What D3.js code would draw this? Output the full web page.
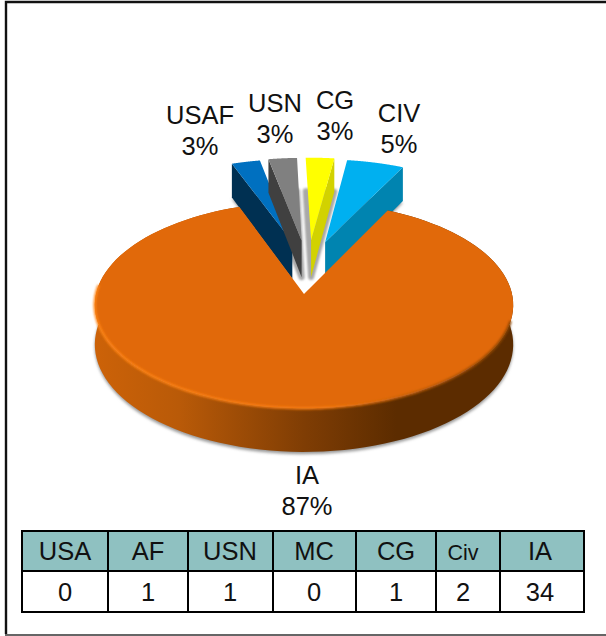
<!DOCTYPE html>
<html>
<head>
<meta charset="utf-8">
<script src="https://cdnjs.cloudflare.com/ajax/libs/d3/7.8.5/d3.min.js"></script>
<style>
html, body { margin: 0; padding: 0; background: #fff; }
svg { display: block; }
text { font-family: "Liberation Sans", Arial, sans-serif; fill: #111; text-anchor: middle; }
</style>
</head>
<body>
<svg id="chart" width="606" height="636"></svg>
<script>
/* Data */
var sliceNames = ["USAF", "USN", "CG", "CIV", "IA"];
var sliceValues = [1, 1, 1, 2, 34];
var tableHeaders = ["USA", "AF", "USN", "MC", "CG", "Civ", "IA"];
var tableCounts = [0, 1, 1, 0, 1, 2, 34];

/* Styles */
var topColors = ["#0070c0", "#808080", "#ffff00", "#00b0f0", "#e1690a"];
var sideColors = ["#003052", "#404040", "#d2d200", "#0084b0", "#8a4305"];

/* Layout */
var CX = 304, CY = 294, RX = 208, RY = 102, PERSP = 0.107, DEPTH = 39;
var EXPLODE_X = 0.3, EXPLODE_Y = 0.56, EXPLODE_SHIFT = 0.02;
var labelPos = [[200, 124], [275, 112], [335, 109], [399, 122], [307, 484]];
var columnEdges = [22, 108, 188, 273, 356, 436, 500, 584];
var columnText = [65, 148, 230, 314, 396, 463, 540];
var rowEdges = [531, 571, 612];

var svg = d3.select("#chart");
var defs = svg.append("defs");

defs.append("filter").attr("id", "blur")
    .attr("x", "-10%").attr("y", "-10%").attr("width", "120%").attr("height", "120%")
    .append("feGaussianBlur").attr("stdDeviation", 1.8);
defs.append("filter").attr("id", "soft")
    .append("feGaussianBlur").attr("stdDeviation", 0.8);

var wallGrad = defs.append("linearGradient").attr("id", "wall")
    .attr("gradientUnits", "userSpaceOnUse")
    .attr("x1", 96).attr("x2", 513).attr("y1", 0).attr("y2", 0);
[[0, "#cc6208"], [0.2, "#b95a08"], [0.5, "#7f3d04"], [0.72, "#5c2c00"], [1, "#5c2c00"]].forEach(function (s) {
    wallGrad.append("stop").attr("offset", s[0]).attr("stop-color", s[1]);
});
var rimGrad = defs.append("linearGradient").attr("id", "rim")
    .attr("gradientUnits", "userSpaceOnUse")
    .attr("x1", 96).attr("x2", 513).attr("y1", 0).attr("y2", 0);
[[0, "#ff8418"], [0.55, "#f57a12"], [0.85, "#a85208"], [1, "#8a4305"]].forEach(function (s) {
    rimGrad.append("stop").attr("offset", s[0]).attr("stop-color", s[1]);
});

// outer frame, there is no line on the right side
svg.append("path").attr("d", "M606,2H6V634").attr("fill", "none")
    .attr("stroke", "#111").attr("stroke-width", 2.4);
svg.append("path").attr("d", "M5,635H606").attr("fill", "none")
    .attr("stroke", "#666").attr("stroke-width", 2);

/* Perspective projection of the pie plane. gx, gy are in pie radius units */
function project(gx, gy, drop) {
    var w = 1 / (1 - PERSP * gy);
    return [CX + RX * gx * w, CY + RY * gy * w + (drop || 0) * w];
}

var line = d3.line();
var rad = Math.PI / 180;
var pie = d3.pie().sort(null).startAngle(-20 * rad).endAngle(340 * rad);
var arcs = pie(sliceValues);

function offsetOf(a, i) {
    if (sliceNames[i] === "IA") return [0, 0];
    var mid = (a.startAngle + a.endAngle) / 2;
    return [Math.sin(mid) * EXPLODE_X + EXPLODE_SHIFT, -Math.cos(mid) * EXPLODE_Y];
}
function arcPoints(a, off, drop) {
    return d3.range(0, 121).map(function (k) {
        var t = a.startAngle + (a.endAngle - a.startAngle) * k / 120;
        return project(Math.sin(t) + off[0], -Math.cos(t) + off[1], drop);
    });
}
function facePath(a, off, drop) {
    return line([project(off[0], off[1], drop)].concat(arcPoints(a, off, drop))) + "Z";
}

// soft ground shadow under everything
var shadow = svg.append("g").attr("filter", "url(#blur)");
arcs.forEach(function (a, i) {
    var off = offsetOf(a, i);
    shadow.append("path").attr("d", facePath(a, off, DEPTH + 2)).attr("fill", "#999");
});

// shadow fills the narrow gap between the USN and CG wedges
var gapShadow = svg.append("g").attr("filter", "url(#soft)");
[1, 2].forEach(function (i) {
    gapShadow.append("path").attr("d", facePath(arcs[i], offsetOf(arcs[i], i), DEPTH))
        .attr("fill", "#a8a8a8").attr("stroke", "#a8a8a8").attr("stroke-width", 6)
        .attr("stroke-linejoin", "round");
});

// exploded wedges, drawn back to front, outer ones first
[0, 3, 1, 2].forEach(function (i) {
    var a = arcs[i], off = offsetOf(a, i);
    var mid = (a.startAngle + a.endAngle) / 2;
    var edge = mid < 0 ? a.startAngle : a.endAngle;
    var rimPt = [Math.sin(edge) + off[0], -Math.cos(edge) + off[1]];
    svg.append("path")
        .attr("d", line([
            project(off[0], off[1], 0),
            project(rimPt[0], rimPt[1], 0),
            project(rimPt[0], rimPt[1], DEPTH),
            project(off[0], off[1], DEPTH)
        ]) + "Z")
        .attr("fill", sideColors[i]);
    svg.append("path").attr("d", facePath(a, off, 0)).attr("fill", topColors[i]);
});

// the big slice: wall, top, rim light
var ia = arcs[4];
var iaTop = arcPoints(ia, [0, 0], 0);
var iaBottom = arcPoints(ia, [0, 0], DEPTH);
svg.append("path").attr("d", line(iaTop.concat(iaBottom.reverse())) + "Z").attr("fill", "url(#wall)");
svg.append("path").attr("d", facePath(ia, [0, 0], 0)).attr("fill", topColors[4]);

var rimArc = { startAngle: 105 * rad, endAngle: 275 * rad };
svg.append("path").attr("d", line(arcPoints(rimArc, [0, 0], 0)))
    .attr("fill", "none").attr("stroke", "url(#rim)").attr("stroke-width", 2.5)
    .attr("filter", "url(#soft)");

// data labels
var total = d3.sum(sliceValues);
sliceNames.forEach(function (name, i) {
    var t = svg.append("text").attr("font-size", 25.5);
    t.append("tspan").attr("x", labelPos[i][0]).attr("y", labelPos[i][1]).text(name);
    t.append("tspan").attr("x", labelPos[i][0]).attr("y", labelPos[i][1] + 30.5)
        .text(Math.round(sliceValues[i] / total * 100) + "%");
});

// count table
var table = svg.append("g");
tableHeaders.forEach(function (h, i) {
    var x0 = columnEdges[i], x1 = columnEdges[i + 1];
    table.append("rect").attr("x", x0).attr("y", rowEdges[0])
        .attr("width", x1 - x0).attr("height", rowEdges[1] - rowEdges[0])
        .attr("fill", "#8fc1c1").attr("stroke", "#000").attr("stroke-width", 2);
    table.append("rect").attr("x", x0).attr("y", rowEdges[1])
        .attr("width", x1 - x0).attr("height", rowEdges[2] - rowEdges[1])
        .attr("fill", "#fff").attr("stroke", "#000").attr("stroke-width", 2);
    table.append("text").attr("x", columnText[i]).attr("y", rowEdges[0] + 29)
        .attr("font-size", h === "Civ" ? 21.5 : 25.5).text(h);
    table.append("text").attr("x", columnText[i]).attr("y", rowEdges[1] + 30)
        .attr("font-size", 25.5).text(tableCounts[i]);
});
</script>
</body>
</html>
